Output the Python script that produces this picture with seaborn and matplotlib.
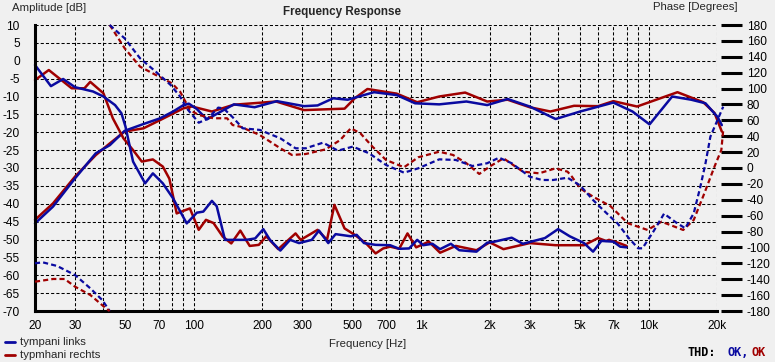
import numpy as np
import pandas as pd
import matplotlib
matplotlib.use("Agg")
import matplotlib.pyplot as plt
from matplotlib.lines import Line2D
import seaborn as sns

# ---------------- data ----------------
series_names = ["tympani links", "typmhani rechts"]

# amplitude, upper (rising) response  [Hz], [dB]
hp_links_f = [20, 24, 30, 37, 42.7, 49.6, 60, 71, 81, 90, 95, 103, 114, 150, 185, 232, 305, 350, 410, 475,
              620, 780, 940, 1200, 1580, 1950, 2400, 3000, 3900, 5000, 7000, 8500, 10100, 12700, 15400,
              17800, 20100, 21000]
hp_links_db = [-45.5, -40.8, -32.9, -25.9, -23.6, -19.6, -17.7, -16.1, -14.2, -12.4, -12.0, -13.5, -16.4,
               -12.2, -13.0, -11.3, -12.7, -12.5, -10.5, -10.9, -8.8, -9.6, -11.9, -12.2, -11.4, -12.4,
               -10.7, -12.8, -16.3, -14.2, -11.7, -14.2, -17.8, -10.0, -10.9, -11.9, -15.7, -18.0]
hp_rechts_f = [20, 24, 30, 37, 42.7, 49.6, 60, 71, 90, 98, 120, 150, 230, 305, 460, 510, 580, 780, 960,
               1200, 1560, 1950, 2400, 3000, 3700, 4700, 6000, 7000, 8900, 13400, 17400, 19500, 21000]
hp_rechts_db = [-44.5, -39.9, -32.4, -26.4, -23.1, -19.8, -18.9, -16.6, -13.3, -12.8, -14.2, -12.3, -11.4,
                -13.8, -13.4, -10.5, -7.9, -9.2, -11.6, -10.0, -8.9, -11.4, -10.9, -13.0, -14.2, -12.6,
                -12.7, -11.3, -12.8, -8.8, -11.6, -14.6, -19.8]

# amplitude, lower (falling) response
lp_links_f = [20, 23.5, 26.6, 30, 36, 40, 45, 48, 50, 54, 61, 66, 73, 81, 93, 103, 110, 120, 126, 137, 170,
              186, 202, 216, 240, 265, 290, 330, 355, 390, 420, 490, 520, 560, 630, 730, 800, 885, 960,
              1020, 1120, 1210, 1350, 1470, 1750, 1950, 2100, 2500, 2800, 3500, 4000, 4500, 5200, 5700,
              6200, 7000, 7500, 8000]
lp_links_db = [-1.2, -7.1, -5.1, -7.4, -8.6, -10.0, -12.4, -14.7, -18.4, -28.2, -34.3, -31.5, -34.3, -38.5,
               -45.5, -42.5, -42.2, -39.2, -40.7, -50.1, -50.1, -49.7, -47.1, -50.1, -53.1, -50.1, -51.0,
               -50.1, -47.5, -51.0, -48.5, -49.1, -48.7, -51.0, -51.5, -51.6, -52.6, -52.5, -50.1, -51.6,
               -51.2, -52.7, -51.2, -53.0, -53.4, -50.9, -50.6, -49.5, -51.2, -49.6, -47.1, -49.1, -51.0,
               -53.4, -50.4, -50.6, -52.0, -52.2]
lp_rechts_f = [20, 23, 29, 33, 35, 40, 44, 49, 54, 59, 66, 73, 78, 84, 96, 105, 113, 122, 134, 146, 160,
               176, 193, 208, 235, 280, 295, 350, 385, 415, 460, 510, 570, 630, 680, 730, 800, 870, 950,
               1080, 1210, 1420, 1750, 2000, 2300, 3000, 3900, 5200, 6000, 6500, 6700, 7500, 8000]
lp_rechts_db = [-5.4, -2.6, -7.7, -7.7, -5.9, -9.1, -16.1, -21.7, -25.0, -28.2, -27.6, -29.6, -33.0, -42.7,
                -41.3, -47.3, -44.5, -45.4, -49.2, -51.1, -47.5, -51.8, -51.5, -49.1, -52.7, -48.3, -50.1,
                -47.3, -50.1, -40.3, -46.9, -48.7, -51.0, -53.9, -52.5, -52.0, -52.6, -48.3, -52.2, -50.6,
                -53.7, -51.8, -53.0, -50.8, -52.7, -51.0, -51.6, -51.6, -49.6, -50.4, -50.1, -51.1, -51.8]

# phase [degrees], low part before the wrap at -180
ph_links_low_f = [20, 21.6, 25, 30, 35, 39.5, 42.6]
ph_links_low = [-120, -118.7, -123.3, -134.7, -151.4, -166.1, -180]
ph_rechts_low_f = [20, 24, 27, 30, 35, 41, 42.6]
ph_rechts_low = [-143.1, -139.7, -139.7, -149.4, -159.8, -176.6, -180]

# phase after the wrap
ph_links_f = [42.6, 49.6, 58, 68, 79, 87, 93, 105, 115, 128, 135, 148, 164, 195, 240, 280, 310, 370, 430,
              500, 590, 700, 840, 970, 1200, 1420, 1680, 1950, 2200, 2500, 3000, 3400, 3800, 4400, 5000,
              5700, 6100, 6900, 7300, 8200, 9000, 9400, 10500, 11700, 13200, 14500, 15800, 16900, 17800,
              18700, 20100, 21300]
ph_links = [180, 163.2, 138, 121.2, 104.5, 89.8, 75.1, 57, 62, 76, 75, 64, 50, 47.9, 37.4, 24.8, 24.8, 31.9,
            21.8, 26.9, 18.5, 3.8, -5.9, -0.4, 10.9, 10.1, 2.5, 6, 13, 6, -10.9, -15.1, -15.1, -12.2, -22,
            -40.3, -48.7, -63.3, -69.6, -88.5, -101.1, -101.1, -80, -57.5, -68.5, -75.9, -57, -23.5, 5.9,
            39.4, 60.4, 77.2]
ph_rechts_f = [42.6, 43.6, 49.6, 58, 68, 80, 87, 96, 105, 122, 140, 148, 160, 195, 240, 270, 310, 380, 440,
               490, 540, 610, 700, 840, 970, 1200, 1380, 1580, 1800, 2000, 2300, 2800, 3300, 3900, 4400,
               4600, 5000, 5700, 6800, 8100, 9900, 11400, 13600, 14200, 15800, 17600, 19500, 20900, 21300]
ph_rechts = [180, 175.8, 150.7, 127.5, 117.1, 106.6, 96, 73, 66.7, 62.6, 62.6, 54.1, 52, 41.5, 24.8, 16.4,
             17.6, 23.5, 35.2, 50, 43.7, 26.9, 10.1, 0.9, 13.5, 20.5, 16.4, 6, -7.5, 1.8, 12.2, -4.6, -6.7,
             -0.4, -4.6, -10.9, -25.6, -36.1, -48, -69.5, -78, -67.6, -75.9, -78, -65.4, -31.8, 1.8, 22.7,
             47.8]

x_ticks = [20, 30, 40, 50, 60, 70, 80, 90, 100, 200, 300, 400, 500, 600, 700, 800, 900,
           1000, 2000, 3000, 4000, 5000, 6000, 7000, 8000, 9000, 10000, 20000]
x_labels = {20: "20", 30: "30", 50: "50", 70: "70", 100: "100", 200: "200", 300: "300", 500: "500",
            700: "700", 1000: "1k", 2000: "2k", 3000: "3k", 5000: "5k", 7000: "7k", 10000: "10k",
            20000: "20k"}
db_ticks = list(range(-70, 11, 5))
phase_ticks = list(range(-180, 181, 20))

# ---------------- style ----------------
sns.set_style("white")
plt.rcParams['font.family'] = ['Liberation Sans', 'DejaVu Sans']
plt.rcParams['font.size'] = 7.6

BG = '#f0f0f0'
BLUE = '#0a0aa0'
RED = '#a00000'
W, H = 775, 362

fig = plt.figure(figsize=(W / 100, H / 100), dpi=100, facecolor=BG)
ax = fig.add_axes([35 / W, 51 / H, (717 - 35) / W, 286 / H])
ax.set_facecolor(BG)
ax.set_xscale('log')
ax2 = ax.twinx()

SOLID_LW = 1.8
DASH_LW = 1.6
DASH = (0, (2.3, 1.4))


def draw(axis, f, v, color, dashed=False):
    df = pd.DataFrame({"f": f, "v": v})
    sns.lineplot(data=df, x="f", y="v", ax=axis, color=color, estimator=None, sort=False,
                 lw=DASH_LW if dashed else SOLID_LW,
                 linestyle=DASH if dashed else '-', clip_on=False, legend=False)


draw(ax2, ph_links_low_f, ph_links_low, BLUE, True)
draw(ax2, ph_rechts_low_f, ph_rechts_low, RED, True)
draw(ax2, ph_rechts_f, ph_rechts, RED, True)
draw(ax2, ph_links_f, ph_links, BLUE, True)

draw(ax, hp_rechts_f, hp_rechts_db, RED)
draw(ax, hp_links_f, hp_links_db, BLUE)
draw(ax, lp_rechts_f, lp_rechts_db, RED)
draw(ax, lp_links_f, lp_links_db, BLUE)

# amplitude axis
ax.set_xlim(20, 20000)
ax.set_ylim(-70, 10)
ax.set_xticks(x_ticks)
ax.set_xticklabels([x_labels.get(t, "") for t in x_ticks])
ax.xaxis.set_minor_locator(matplotlib.ticker.NullLocator())
ax.set_yticks(db_ticks)
ax.set_yticklabels([str(t) for t in db_ticks])
ax.set_xlabel("")
ax.set_ylabel("")
ax.grid(True, which='major', color='black', linestyle=(0, (3, 2)), lw=0.75)
ax.set_axisbelow(True)
for s in ['top', 'right']:
    ax.spines[s].set_visible(False)
for s in ['left', 'bottom']:
    ax.spines[s].set_color('black')
    ax.spines[s].set_linewidth(2.2)
ax.tick_params(axis='x', which='major', length=4.5, width=0.8, color='black', direction='out',
               pad=2, labelsize=8.6, labelcolor='black')
ax.tick_params(axis='y', length=0, pad=11, labelsize=8.6, labelcolor='black')

# phase axis
ax2.set_ylim(-180, 180)
ax2.set_yticks(phase_ticks)
ax2.set_yticklabels([str(t) for t in phase_ticks])
ax2.set_ylabel("")
for s in ['top', 'left', 'bottom', 'right']:
    ax2.spines[s].set_visible(False)
ax2.spines['right'].set_position(('outward', 3))
ax2.tick_params(axis='y', length=15, width=2.2, color='black', direction='out', pad=3.5,
                labelsize=8.6, labelcolor='black')
ax2.grid(False)

# texts
fig.text(12 / W, 1 - 8 / H, "Amplitude [dB]", ha='left', va='center', fontsize=8.2)
fig.text(653 / W, 1 - 7 / H, "Phase [Degrees]", ha='left', va='center', fontsize=8.2)
fig.text(283 / W, 1 - 12 / H, "Frequency Response", ha='left', va='center', fontsize=8.4,
         fontweight='bold')
fig.text(368 / W, 1 - 344 / H, "Frequency [Hz]", ha='center', va='center', fontsize=8.2)

# legend
for name, col, yy in [(series_names[0], BLUE, 342), (series_names[1], RED, 355)]:
    fig.add_artist(Line2D([5 / W, 15 / W], [1 - yy / H, 1 - yy / H], color=col, lw=2.0,
                          transform=fig.transFigure))
    fig.text(20 / W, 1 - yy / H, name, ha='left', va='center', fontsize=8.2)

mono = ['DejaVu Sans Mono']
fig.text(688 / W, 1 - 353 / H, "THD:", ha='left', va='center', fontsize=8.6, fontweight='bold',
         family=mono, color='black')
fig.text(727 / W, 1 - 353 / H, "OK,", ha='left', va='center', fontsize=8.6, fontweight='bold',
         family=mono, color=BLUE)
fig.text(752 / W, 1 - 353 / H, "OK", ha='left', va='center', fontsize=8.6, fontweight='bold',
         family=mono, color=RED)

fig.savefig("out.png", dpi=100, facecolor=BG)
